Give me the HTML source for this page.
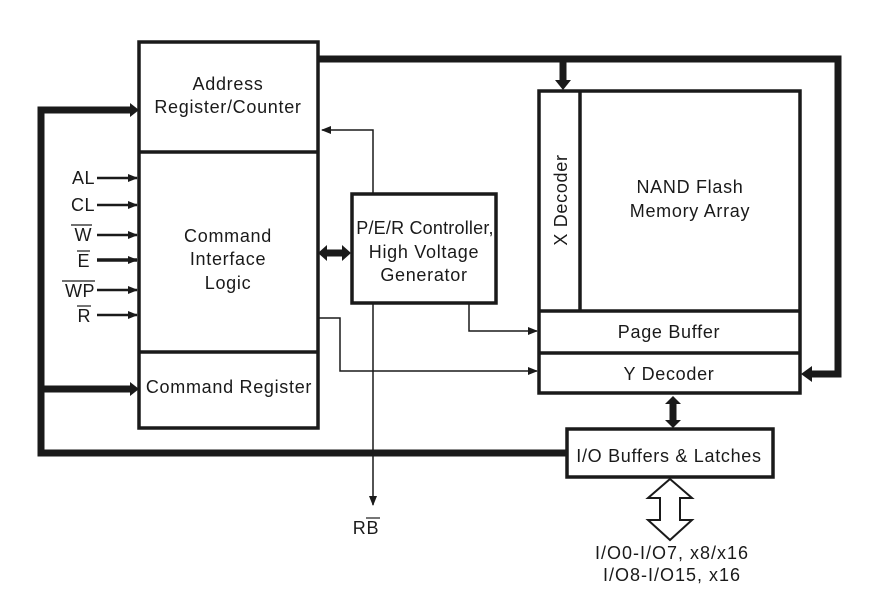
<!DOCTYPE html>
<html><head><style>
html,body{margin:0;padding:0;background:#fff;}
svg{display:block;}
text{font-family:"Liberation Sans",Arial,sans-serif;fill:#1a1a1a;}
</style></head><body>
<svg width="884" height="600" viewBox="0 0 884 600" xmlns="http://www.w3.org/2000/svg">
<defs>
<marker id="ah" markerWidth="10" markerHeight="8" refX="9" refY="4" orient="auto" markerUnits="userSpaceOnUse"><path d="M0,0 L10,4 L0,8 Z" fill="#1a1a1a"/></marker>
</defs>
<g stroke="#1a1a1a" fill="none">
<rect x="139" y="42" width="179" height="386" stroke-width="3.5"/>
<line x1="139" y1="152" x2="318" y2="152" stroke-width="3.5"/>
<line x1="139" y1="352" x2="318" y2="352" stroke-width="3.5"/>
<rect x="352" y="194" width="144" height="109" stroke-width="3.5"/>
<rect x="539" y="91" width="261" height="302" stroke-width="3.5"/>
<line x1="580" y1="91" x2="580" y2="311" stroke-width="3.5"/>
<line x1="539" y1="311" x2="800" y2="311" stroke-width="3.5"/>
<line x1="539" y1="353" x2="800" y2="353" stroke-width="3.5"/>
<rect x="567" y="429" width="206" height="48" stroke-width="3.5"/>
<polyline points="318,59 838,59 838,374 812,374" stroke-width="7"/>
<line x1="563" y1="59" x2="563" y2="80" stroke-width="7"/>
<polyline points="130,110 41,110 41,453 567,453" stroke-width="7"/>
<line x1="41" y1="389" x2="130" y2="389" stroke-width="7"/>
<line x1="327" y1="253" x2="342" y2="253" stroke-width="7"/>
<line x1="673" y1="404" x2="673" y2="420" stroke-width="7"/>
<polyline points="373,193 373,130 322,130" stroke-width="1.5" marker-end="url(#ah)"/>
<line x1="373" y1="303" x2="373" y2="505" stroke-width="1.5" marker-end="url(#ah)"/>
<polyline points="469,303 469,331 537,331" stroke-width="1.5" marker-end="url(#ah)"/>
<polyline points="318,318 340,318 340,371 537,371" stroke-width="1.5" marker-end="url(#ah)"/>
<line x1="97" y1="178" x2="137" y2="178" stroke-width="2.5" marker-end="url(#ah)"/>
<line x1="97" y1="205" x2="137" y2="205" stroke-width="2.5" marker-end="url(#ah)"/>
<line x1="97" y1="235" x2="137" y2="235" stroke-width="2.5" marker-end="url(#ah)"/>
<line x1="97" y1="260" x2="137" y2="260" stroke-width="3.5" marker-end="url(#ah)"/>
<line x1="97" y1="290" x2="137" y2="290" stroke-width="2.5" marker-end="url(#ah)"/>
<line x1="97" y1="315" x2="137" y2="315" stroke-width="2.5" marker-end="url(#ah)"/>
<path d="M670,479 L692,498 L680,498 L680,520 L692,520 L670,540 L648,520 L660,520 L660,498 L648,498 Z" stroke-width="2" fill="#fff"/>
</g>
<g fill="#1a1a1a">
<path d="M130,103 L139,110 L130,117 Z"/>
<path d="M130,382 L139,389 L130,396 Z"/>
<path d="M555,80 L571,80 L563,90 Z"/>
<path d="M812,366 L812,382 L801,374 Z"/>
<path d="M327,245 L318,253 L327,261 Z"/>
<path d="M342,245 L351,253 L342,261 Z"/>
<path d="M665,404 L681,404 L673,396 Z"/>
<path d="M665,420 L681,420 L673,428 Z"/>
</g>
<g font-size="18" text-anchor="middle" letter-spacing="0.7">
<text x="228" y="90">Address</text>
<text x="228" y="113">Register/Counter</text>
<text x="228" y="242">Command</text>
<text x="228" y="265">Interface</text>
<text x="228" y="289">Logic</text>
<text x="229" y="393">Command Register</text>
<text x="425" y="234" letter-spacing="0.2">P/E/R Controller,</text>
<text x="424" y="258">High Voltage</text>
<text x="424" y="281">Generator</text>
<text x="690" y="193">NAND Flash</text>
<text x="690" y="217">Memory Array</text>
<text x="669" y="338">Page Buffer</text>
<text x="669" y="380">Y Decoder</text>
<text x="669" y="462">I/O Buffers &amp; Latches</text>
<text x="0" y="0" transform="translate(567,200) rotate(-90)">X Decoder</text>
<text x="672" y="559" letter-spacing="1">I/O0-I/O7, x8/x16</text>
<text x="672" y="581" letter-spacing="1">I/O8-I/O15, x16</text>
<text x="366" y="534">RB</text>
</g>
<g font-size="18" text-anchor="end" letter-spacing="0.5">
<text x="95" y="184">AL</text>
<text x="95" y="211">CL</text>
<text x="92" y="241">W</text>
<text x="90" y="267">E</text>
<text x="95" y="297">WP</text>
<text x="91" y="322">R</text>
</g>
<g stroke="#1a1a1a" stroke-width="1.2">
<line x1="71" y1="225" x2="92" y2="225"/>
<line x1="77" y1="251" x2="90" y2="251"/>
<line x1="62" y1="281" x2="95" y2="281"/>
<line x1="77" y1="306" x2="91" y2="306"/>
<line x1="366" y1="518" x2="380" y2="518"/>
</g>
</svg>
</body></html>
